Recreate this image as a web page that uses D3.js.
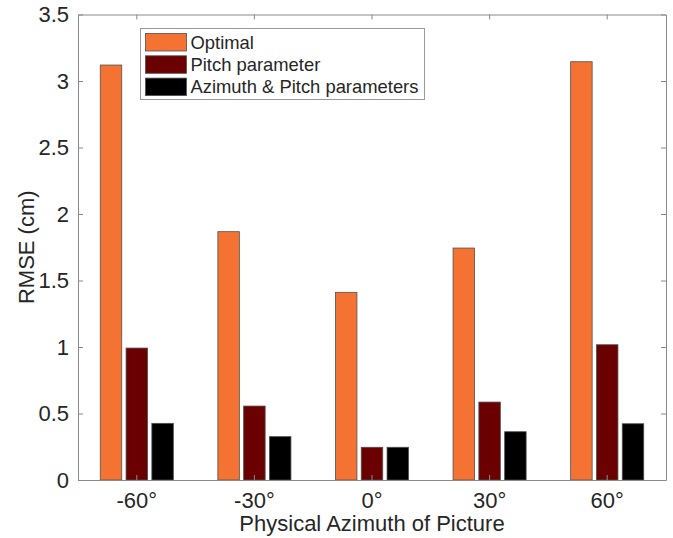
<!DOCTYPE html>
<html>
<head>
<meta charset="utf-8">
<script src="https://cdn.jsdelivr.net/npm/d3@7"></script>
<style>
  body { margin: 0; background: #fff; }
  text { font-family: "Liberation Sans", Arial, Helvetica, sans-serif; fill: #262626; }
</style>
</head>
<body>
<div id="chart"></div>
<script>
// chart data
var categories = ["-60°", "-30°", "0°", "30°", "60°"];
var seriesNames = ["Optimal", "Pitch parameter", "Azimuth & Pitch parameters"];
var optimal = [3.12, 1.867, 1.411, 1.744, 3.145];
var pitch = [0.992, 0.556, 0.246, 0.586, 1.017];
var azimuthPitch = [0.426, 0.326, 0.246, 0.363, 0.423];
var yTicks = [0, 0.5, 1, 1.5, 2, 2.5, 3, 3.5];

var colors = ["#f47333", "#6b0000", "#000000"];

var width = 673, height = 538;
// plot box (note: "top" is a reserved window prop, so prefix these)
var plotLeft = 78, plotRight = 666, plotTop = 14.5, plotBottom = 480;

var svg = d3.select("#chart").append("svg")
    .attr("width", width)
    .attr("height", height);

var x0 = d3.scaleBand()
    .domain(categories)
    .range([plotLeft, plotRight])
    .padding(0);

var x1 = d3.scaleBand()
    .domain(seriesNames)
    .range([0, x0.bandwidth()])
    .paddingInner(0.167)
    .paddingOuter(0.863);

var y = d3.scaleLinear()
    .domain([0, 3.5])
    .range([plotBottom, plotTop]);

var allSeries = [optimal, pitch, azimuthPitch];
var rows = [];
categories.forEach(function(c, i){
    seriesNames.forEach(function(s, j){
        rows.push({cat: c, series: s, value: allSeries[j][i], color: colors[j]});
    });
});

// bars
svg.append("g").selectAll("rect")
    .data(rows)
    .enter()
    .append("rect")
    .attr("x", d => x0(d.cat) + x1(d.series))
    .attr("y", d => y(d.value))
    .attr("width", x1.bandwidth())
    .attr("height", d => y(0) - y(d.value))
    .attr("fill", d => d.color)
    .attr("stroke", "#505050")
    .attr("stroke-width", 0.8);

// axes (box on, ticks inward like matlab)
var axisColor = "#8a8a8a";
var tickLen = 5;

var yAxisL = svg.append("g")
    .attr("transform", "translate(" + plotLeft + ",0)")
    .call(d3.axisLeft(y).tickValues(yTicks).tickSizeInner(-tickLen).tickSizeOuter(0)
        .tickPadding(9).tickFormat(d3.format("")));
var yAxisR = svg.append("g")
    .attr("transform", "translate(" + plotRight + ",0)")
    .call(d3.axisRight(y).tickValues(yTicks).tickSizeInner(-tickLen).tickSizeOuter(0).tickFormat(""));
var xAxisB = svg.append("g")
    .attr("transform", "translate(0," + plotBottom + ")")
    .call(d3.axisBottom(x0).tickSizeInner(-tickLen).tickSizeOuter(0).tickPadding(12));
var xAxisT = svg.append("g")
    .attr("transform", "translate(0," + plotTop + ")")
    .call(d3.axisTop(x0).tickSizeInner(-tickLen).tickSizeOuter(0).tickFormat(""));

[yAxisL, yAxisR, xAxisB, xAxisT].forEach(function(a){
    a.select(".domain").attr("stroke", axisColor).attr("stroke-width", 1);
    a.selectAll(".tick line").attr("stroke", axisColor);
    a.selectAll("text").style("font-size", "22px").attr("fill", "#262626")
        .style("font-family", "'Liberation Sans', Arial, sans-serif");
});

// axis titles
svg.append("text")
    .attr("x", (plotLeft + plotRight) / 2)
    .attr("y", 531)
    .attr("text-anchor", "middle")
    .style("font-size", "22px")
    .text("Physical Azimuth of Picture");

svg.append("text")
    .attr("transform", "translate(34," + ((plotTop + plotBottom) / 2) + ") rotate(-90)")
    .attr("text-anchor", "middle")
    .style("font-size", "22px")
    .text("RMSE (cm)");

// legend
var legend = svg.append("g").attr("transform", "translate(140.5,28.5)");
legend.append("rect")
    .attr("width", 284)
    .attr("height", 71)
    .attr("fill", "#fff")
    .attr("stroke", "#9a9a9a");

var legendItems = legend.selectAll(".item")
    .data(seriesNames)
    .enter()
    .append("g")
    .attr("transform", (d, i) => "translate(5," + (5 + i * 22.3) + ")");

legendItems.append("rect")
    .attr("width", 41)
    .attr("height", 17.5)
    .attr("fill", (d, i) => colors[i])
    .attr("stroke", "#505050")
    .attr("stroke-width", 0.8);

legendItems.append("text")
    .attr("x", 45)
    .attr("y", 15)
    .style("font-size", "18.4px")
    .text(d => d);
</script>
</body>
</html>
